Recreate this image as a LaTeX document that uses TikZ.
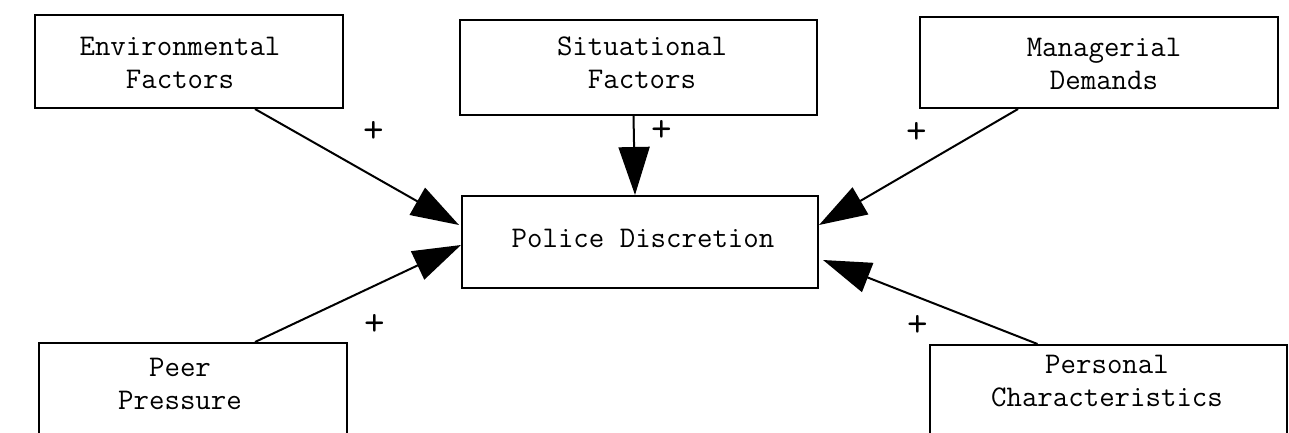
\documentclass[tikz,border=0pt]{standalone}
\usetikzlibrary{arrows.meta}
\begin{document}
\begin{tikzpicture}[x=1pt,y=-1pt,
  box/.style={draw,line width=2pt,rectangle,inner sep=0pt},
  lbl/.style={align=center,font=\ttfamily\fontsize{30}{33}\selectfont,inner sep=0pt},
  plus/.style={font=\ttfamily\fontsize{40}{40}\selectfont,inner sep=0pt},
  link/.style={line width=2pt,-{Triangle[length=48pt,width=31pt]}}
]
\useasboundingbox (0,0) rectangle (1289,432);

% boxes
\node[box,minimum width=308pt,minimum height=93pt] (env) at (189,61.5) {};
\node[box,minimum width=357pt,minimum height=95pt] (sit) at (638.5,67.5) {};
\node[box,minimum width=358pt,minimum height=91pt] (man) at (1099,62.5) {};
\node[box,minimum width=356pt,minimum height=92pt] (pol) at (640,242) {};
\node[box,minimum width=308pt,minimum height=110pt] (peer) at (193,398) {};
\node[box,minimum width=357pt,minimum height=110pt] (pers) at (1108.5,400) {};

% box texts
\node[lbl] (envt) at (180,63) {Environmental\\Factors};
\node[lbl] (sitt) at (642,63) {Situational\\Factors};
\node[lbl] (mant) at (1104,64) {Managerial\\Demands};
\node[lbl] (polt) at (643,238) {Police Discretion};
\node[lbl] (peert) at (180,384) {Peer\\Pressure};
\node[lbl] (perst) at (1107,381) {Personal\\Characteristics};

% influences on discretion
\draw[link] ([xshift=66pt]env.south) -- ([xshift=-2pt,yshift=17pt]pol.west);
\draw[link] ([xshift=-5pt]sit.south) -- ([xshift=-5pt]pol.north);
\draw[link] ([xshift=-81pt]man.north |- man.south) -- ([yshift=17pt]pol.east);
\draw[link] ([xshift=62pt]peer.north) -- ([yshift=-3pt]pol.west);
\draw[link] ([xshift=-71pt]pers.north) -- ([xshift=4pt,yshift=-18pt]pol.east);

% signs
\node[plus] (p1) at (374,132) {+};
\node[plus] (p2) at (662,131) {+};
\node[plus] (p3) at (917,133) {+};
\node[plus] (p4) at (375,325) {+};
\node[plus] (p5) at (918,326) {+};
\end{tikzpicture}
\end{document}
